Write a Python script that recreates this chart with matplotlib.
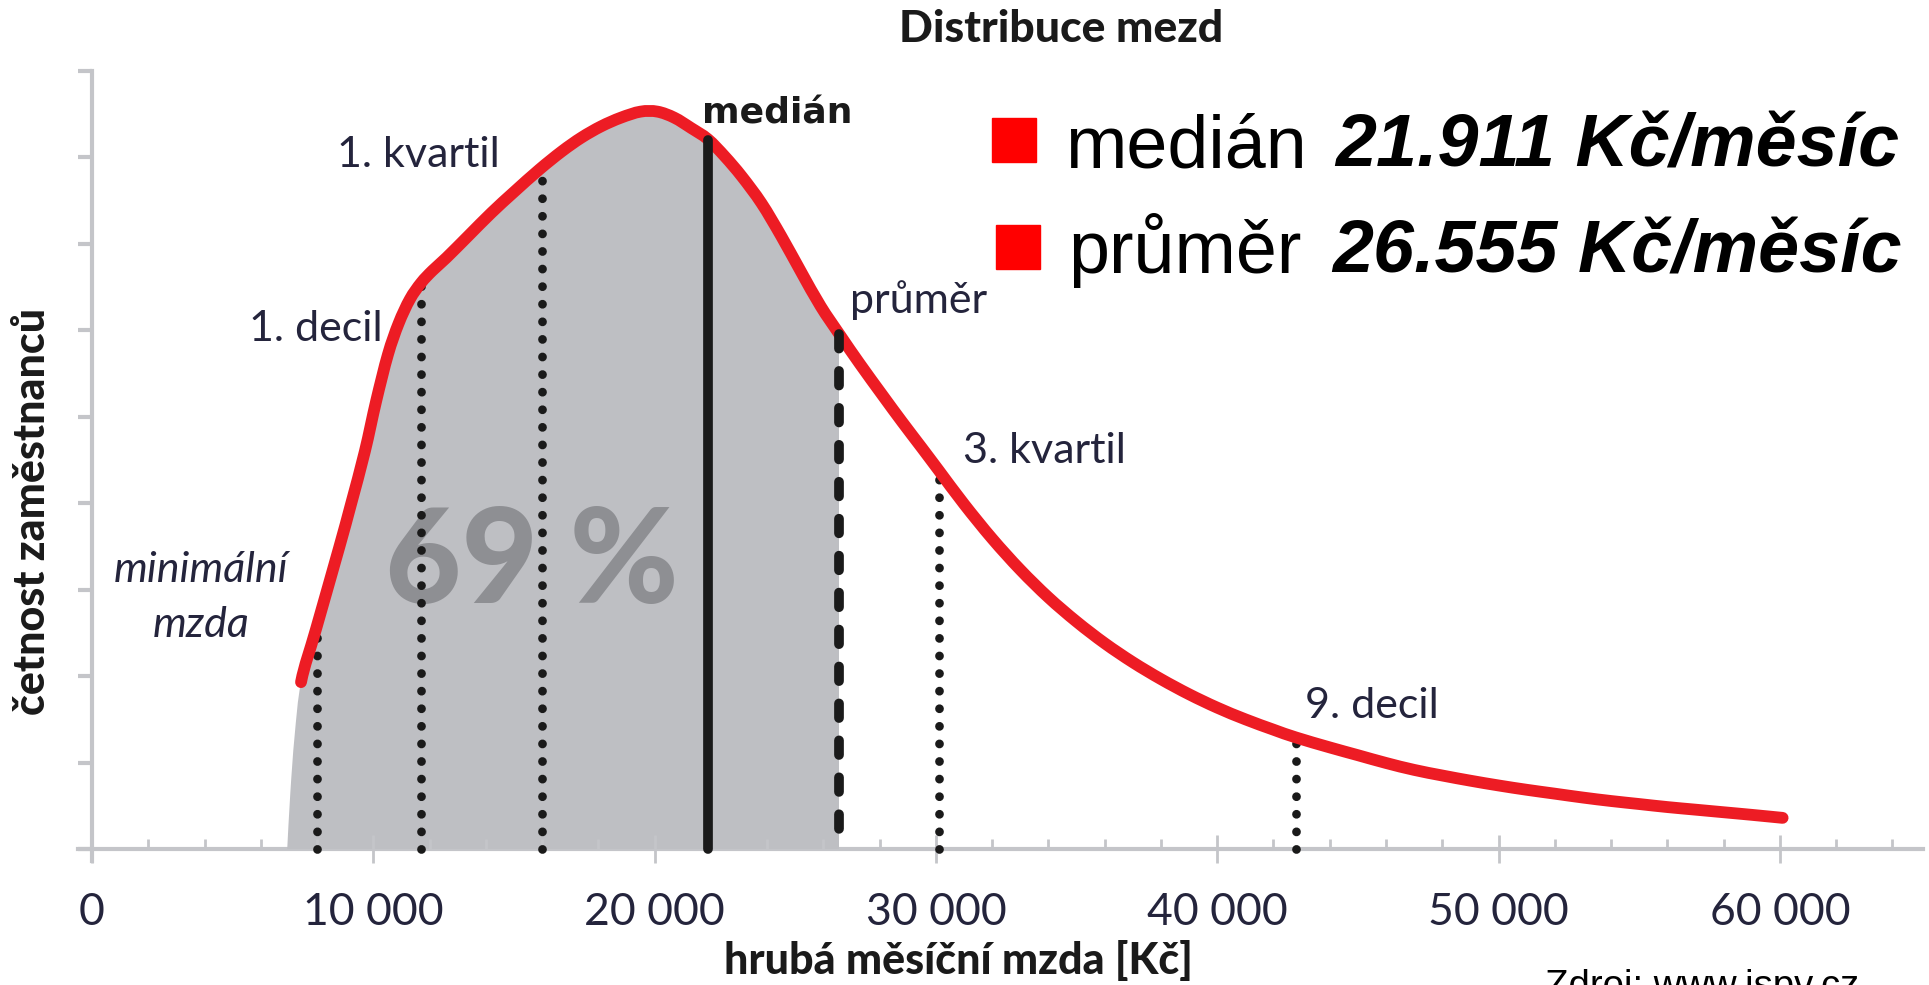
import numpy as np
import matplotlib
matplotlib.use("Agg")
import matplotlib.pyplot as plt
from matplotlib.patches import Rectangle, PathPatch
from matplotlib.path import Path

plt.rcParams['font.family'] = ['Lato', 'DejaVu Sans']

# ---------------- data ----------------
curve_x = [6940, 7050, 7200, 7430, 7960, 8780, 9200, 9700, 10100, 10520, 10900, 11300,
           11700, 12100, 12600, 13400, 14200, 15000, 15900, 16700, 17400, 18100, 18800,
           19500, 20100, 20700, 21300, 21900, 22500, 23100, 23800, 24500, 25200, 25900,
           26600, 27300, 28100, 28800, 29500, 30100, 31000, 32000, 33000, 34000, 35000,
           36000, 37000, 38000, 39000, 40000, 41000, 42000, 42800, 44000, 45000, 46000,
           47000, 48000, 49000, 50000, 51000, 52000, 53000, 54000, 55000, 56000, 57000,
           58000, 59000, 60100]
curve_y = [0.0, 0.65, 1.3, 1.93, 2.54, 3.48, 3.98, 4.6, 5.18, 5.72, 6.08, 6.36,
           6.55, 6.69, 6.84, 7.1, 7.36, 7.6, 7.86, 8.07, 8.23, 8.36, 8.46,
           8.53, 8.53, 8.46, 8.34, 8.21, 8.01, 7.78, 7.47, 7.09, 6.68, 6.28,
           5.94, 5.61, 5.25, 4.94, 4.64, 4.38, 3.99, 3.59, 3.23, 2.91, 2.63,
           2.38, 2.16, 1.965, 1.79, 1.635, 1.5, 1.38, 1.29, 1.175, 1.085, 0.995,
           0.915, 0.85, 0.79, 0.735, 0.685, 0.64, 0.595, 0.555, 0.52, 0.485, 0.455,
           0.425, 0.395, 0.36]
red_start_index = 3       # red line begins at the 4th point (7 430 Kč)

dotted_x = [8000, 11700, 16000, 30100, 42800]   # min. mzda, 1. decil, 1. kvartil, 3. kvartil, 9. decil
median_x = 21911
mean_x = 26555
share_text = "69 %"

xtick_vals = [0, 10000, 20000, 30000, 40000, 50000, 60000]
xtick_labels = ["0", "10 000", "20 000", "30 000", "40 000", "50 000", "60 000"]
ytick_vals = list(range(0, 10))

title = "Distribuce mezd"
xlabel = "hrubá měsíční mzda [Kč]"
ylabel = "četnost zaměstnanců"
legend_rows = [("medián", "21.911 Kč/měsíc"), ("průměr", "26.555 Kč/měsíc")]
source = "Zdroj: www.ispv.cz"

# ---------------- style ----------------
W, H = 1929, 985
RED = '#ed1c24'
FILL = '#bebfc3'
AXC = '#c4c5c9'
NAVY = '#24243c'
SHARE = '#8e8f93'
BLK = '#1a1a1a'

fig = plt.figure(figsize=(W / 100, H / 100), dpi=100)


def fx(px):
    return px / W


def fy(py):
    return 1 - py / H


def smooth_path(xs, ys, i0=0, close_to_axis=False):
    """Catmull-Rom style Bezier path through the data points."""
    n = len(xs)
    P = np.column_stack([xs, ys]).astype(float)
    verts = [P[i0]]
    codes = [Path.MOVETO]
    for i in range(i0, n - 1):
        p_prev = P[max(i - 1, 0)]
        p0 = P[i]
        p1 = P[i + 1]
        p_next = P[min(i + 2, n - 1)]
        c1 = p0 + (p1 - p_prev) / 6.0
        c2 = p1 - (p_next - p0) / 6.0
        verts += [c1, c2, p1]
        codes += [Path.CURVE4] * 3
    if close_to_axis:
        verts += [(P[-1, 0], 0), (P[i0, 0], 0), P[i0]]
        codes += [Path.LINETO, Path.LINETO, Path.CLOSEPOLY]
    return Path(np.array(verts), codes)


ax = fig.add_axes([fx(78), fy(861), (1923 - 78) / W, (861 - 71) / H])
ax.set_xlim(-498, 65090)
ax.set_ylim(-0.139, 9.0)
ax.patch.set_alpha(0)

cx = np.array(curve_x, dtype=float)
cy = np.array(curve_y, dtype=float)

# gray area up to the mean
area = PathPatch(smooth_path(cx, cy, 0, close_to_axis=True), facecolor=FILL,
                 edgecolor='none', lw=0, zorder=1)
ax.add_patch(area)
clip = Rectangle((cx[0] - 100, -0.01), mean_x - cx[0] + 100, 10, transform=ax.transData)
area.set_clip_path(clip)

ax.text(532 / 28.13 * 1000 - 92 / 28.13 * 1000, (849 - 565) / 86.5, share_text,
        fontsize=95, fontweight='black', color=SHARE, ha='center', va='center', zorder=2)

# dotted quantile lines
for qx in dotted_x:
    top = np.interp(qx, cx, cy)
    ax.plot([qx, qx], [0, top], color=BLK, lw=6.3, linestyle=(0, (0.01, 2.0)),
            dash_capstyle='round', zorder=3)

# red curve
ax.add_patch(PathPatch(smooth_path(cx, cy, red_start_index), facecolor='none',
                       edgecolor=RED, lw=8.5, capstyle='round', joinstyle='round', zorder=4))

# median and mean lines
ax.plot([median_x, median_x], [0, np.interp(median_x, cx, cy)], color=BLK, lw=7,
        solid_capstyle='round', zorder=5)
ax.plot([mean_x, mean_x], [np.interp(mean_x, cx, cy), 0], color=BLK, lw=7,
        linestyle=(0, (1.5, 2.3)), dash_capstyle='round', zorder=5)

# axes styling
for s in ['top', 'right']:
    ax.spines[s].set_visible(False)
ax.spines['bottom'].set_position(('data', 0))
ax.spines['left'].set_position(('data', 0))
for s in ['bottom', 'left']:
    ax.spines[s].set_color(AXC)
    ax.spines[s].set_linewidth(3)
    ax.spines[s].set_zorder(0.5)

ax.set_xticks(xtick_vals)
ax.set_xticklabels(xtick_labels)
ax.set_xticks(np.arange(0, 65000, 2000), minor=True)
ax.set_yticks(ytick_vals)
ax.set_yticklabels([])
ax.tick_params(axis='x', which='major', direction='inout', length=20, width=2, color=AXC,
               pad=21, labelsize=32, labelcolor=NAVY)
ax.tick_params(axis='x', which='minor', direction='in', length=7, width=2, color=AXC)
ax.tick_params(axis='y', which='major', direction='out', length=10, width=3, color=AXC)

# titles / axis labels
fig.text(fx(1061), fy(42), title, fontsize=32, fontweight='black', color=BLK,
         ha='center', va='baseline')
fig.text(fx(958), fy(974), xlabel, fontsize=31, fontweight='black', color=BLK,
         ha='center', va='baseline')
fig.text(fx(32), fy(511), ylabel, fontsize=31, fontweight='black', color=BLK,
         ha='center', va='center', rotation=90)

# annotations
ann = dict(fontsize=31, fontweight='normal', color=NAVY, va='baseline')
fig.text(fx(383), fy(341), "1. decil", ha='right', **ann)
fig.text(fx(500), fy(167), "1. kvartil", ha='right', **ann)
fig.text(fx(850), fy(313), "průměr", ha='left', **ann)
fig.text(fx(963), fy(463), "3. kvartil", ha='left', **ann)
fig.text(fx(1305), fy(718), "9. decil", ha='left', **ann)
fig.text(fx(201), fy(582), "minimální", ha='center', fontstyle='italic', **ann)
fig.text(fx(201), fy(637), "mzda", ha='center', fontstyle='italic', **ann)
fig.text(fx(702), fy(123), "medián", ha='left', fontsize=26, fontweight='bold',
         family='DejaVu Sans', color=BLK, va='baseline')

# legend-like block
sq = [(992, 118), (996, 225)]
txt_x = [1065, 1068]
val_x = [1335, 1332]
base = [167, 273]
for i, (name, val) in enumerate(legend_rows):
    x0, y0 = sq[i]
    fig.patches.append(Rectangle((fx(x0), fy(y0 + 44)), 44 / W, 44 / H,
                                 transform=fig.transFigure, color='#ff0000'))
    fig.text(fx(txt_x[i]), fy(base[i]), name, fontsize=53, family='Liberation Sans',
             color='black', va='baseline', ha='left')
    fig.text(fx(val_x[i]), fy(base[i]), val, fontsize=53, family='Liberation Sans',
             fontweight='bold', fontstyle='italic', color='black', va='baseline', ha='left')

fig.text(fx(1545), fy(997), source, fontsize=27.5, family='Liberation Sans', color='black',
         ha='left', va='baseline')

fig.savefig('out.png', dpi=100)
